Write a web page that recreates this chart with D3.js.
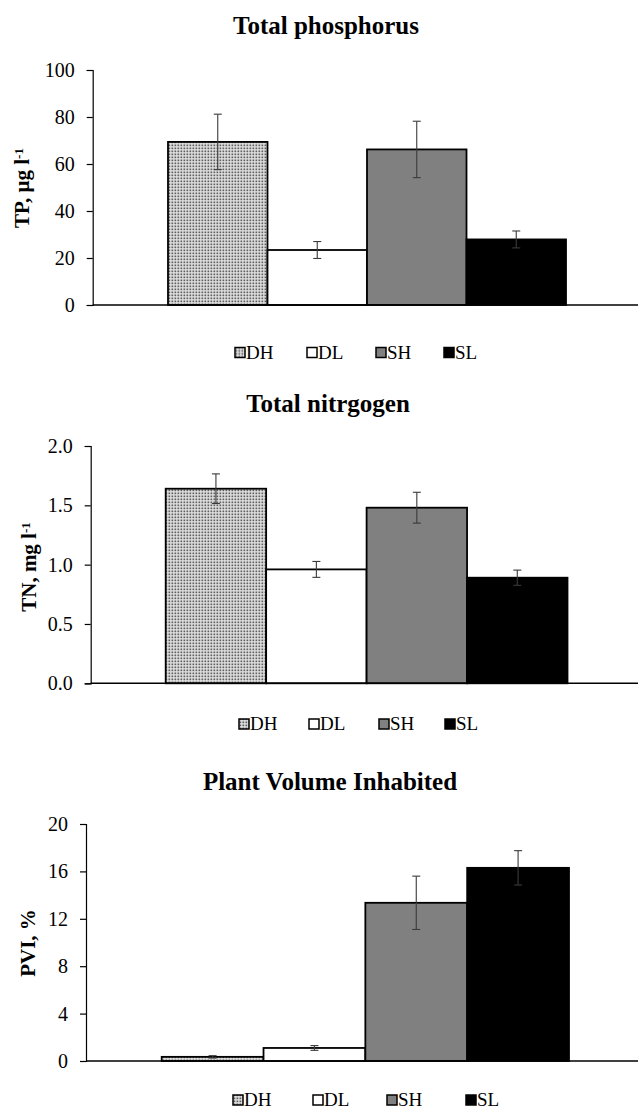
<html>
<head>
  <title>TP TN PVI</title>
  <script src="https://d3js.org/d3.v7.min.js"></script>
  <style>
    body { margin: 0; background: #fff; }
    svg text { font-family: "Liberation Serif", "Times New Roman", serif; fill: #000; }
    .title { font-weight: bold; font-size: 25px; }
    .ylabel { font-weight: bold; font-size: 21px; }
    .legend text { font-size: 19px; }
  </style>
</head>
<body>
  <div id="vis"></div>

  <script type="text/javascript">

    // data
    var series = ["DH", "DL", "SH", "SL"];

    var tpMean = [69.4, 23.4, 66.2, 27.9];
    var tpErr = [11.8, 3.6, 12.0, 3.6];
    var tpTicks = [0, 20, 40, 60, 80, 100];

    var tnMean = [1.64, 0.96, 1.48, 0.89];
    var tnErr = [0.125, 0.067, 0.13, 0.064];
    var tnTicks = [0, 0.5, 1.0, 1.5, 2.0];

    var pviMean = [0.35, 1.1, 13.35, 16.3];
    var pviErr = [0.1, 0.2, 2.25, 1.45];
    var pviTicks = [0, 4, 8, 12, 16, 20];

    var width = 638, height = 1111;
    var serif = '"Liberation Serif", "Times New Roman", serif';

    var svg = d3.select('#vis')
      .append('svg')
        .attr('width', width)
        .attr('height', height);

    // dotted fill used for DH
    var pat = svg.append('defs').append('pattern')
        .attr('id', 'dots')
        .attr('patternUnits', 'userSpaceOnUse')
        .attr('width', 3)
        .attr('height', 3);
    pat.append('rect').attr('width', 3).attr('height', 3).attr('fill', '#e2e2e2');
    pat.append('rect').attr('x', 0.5).attr('y', 0.5).attr('width', 1.7).attr('height', 1.7).attr('fill', '#5e5e5e');

    var fills = {DH: 'url(#dots)', DL: '#ffffff', SH: '#808080', SL: '#000000'};

    function drawChart(c) {
      var g = svg.append('g');

      var x = d3.scaleBand().domain(series).range([c.barStart, c.barEnd]).padding(0);
      var y = d3.scaleLinear().domain([0, c.ticks[c.ticks.length - 1]]).range([c.y0, c.yTop]);

      var rows = series.map(function(s, i) {
        return {name: s, mean: c.mean[i], err: c.err[i]};
      });

      // title
      g.append('text')
        .attr('class', 'title')
        .attr('x', c.titleX)
        .attr('y', c.titleY)
        .attr('text-anchor', 'middle')
        .text(c.title);

      // y axis
      var yAxis = d3.axisLeft(y)
        .tickValues(c.ticks)
        .tickSize(6)
        .tickPadding(12)
        .tickFormat(c.fmt);

      var ya = g.append('g')
        .attr('transform', 'translate(' + c.axisX + ',0)')
        .call(yAxis);
      ya.select('.domain').attr('stroke', '#000').attr('stroke-width', 1.2);
      ya.selectAll('.tick line').attr('stroke', '#000').attr('stroke-width', 1.2);
      ya.selectAll('.tick text')
        .attr('fill', '#000')
        .style('font-family', serif)
        .style('font-size', '20px');

      // y label
      var lab = g.append('text')
        .attr('class', 'ylabel')
        .attr('transform', 'translate(' + c.labelX + ',' + c.labelY + ') rotate(-90)')
        .attr('text-anchor', 'middle');
      lab.append('tspan').text(c.label);
      if (c.sup) {
        lab.append('tspan').attr('dy', '-0.5em').style('font-size', '13px').text(c.sup);
      }

      // bars
      g.selectAll('rect.bar')
        .data(rows)
        .enter().append('rect')
          .attr('class', 'bar')
          .attr('x', function(d) { return x(d.name); })
          .attr('y', function(d) { return y(d.mean); })
          .attr('width', x.bandwidth())
          .attr('height', function(d) { return y(0) - y(d.mean); })
          .attr('fill', function(d) { return fills[d.name]; })
          .attr('stroke', '#000')
          .attr('stroke-width', 1.8);

      // x axis line, no ticks
      g.append('line')
        .attr('x1', c.axisX)
        .attr('x2', width)
        .attr('y1', y(0))
        .attr('y2', y(0))
        .attr('stroke', '#000')
        .attr('stroke-width', 1.6);

      // error bars
      var eb = g.selectAll('g.err')
        .data(rows)
        .enter().append('g')
          .attr('class', 'err')
          .attr('stroke', '#3a3a3a')
          .attr('stroke-width', 1.1);
      eb.append('line')
        .attr('x1', function(d) { return x(d.name) + x.bandwidth() / 2; })
        .attr('x2', function(d) { return x(d.name) + x.bandwidth() / 2; })
        .attr('y1', function(d) { return y(d.mean - d.err); })
        .attr('y2', function(d) { return y(d.mean + d.err); });
      [1, -1].forEach(function(k) {
        eb.append('line')
          .attr('x1', function(d) { return x(d.name) + x.bandwidth() / 2 - 4; })
          .attr('x2', function(d) { return x(d.name) + x.bandwidth() / 2 + 4; })
          .attr('y1', function(d) { return y(d.mean + k * d.err); })
          .attr('y2', function(d) { return y(d.mean + k * d.err); });
      });

      // legend
      var lg = g.append('g').attr('class', 'legend');
      var items = lg.selectAll('g')
        .data(series)
        .enter().append('g')
          .attr('transform', function(d, i) { return 'translate(' + c.legendX[i] + ',' + c.legendY + ')'; });
      items.append('rect')
        .attr('x', 0)
        .attr('y', -11)
        .attr('width', 10)
        .attr('height', 10)
        .attr('fill', function(d) { return fills[d]; })
        .attr('stroke', '#000')
        .attr('stroke-width', 1.5);
      items.append('text')
        .attr('x', 11)
        .attr('y', 0)
        .style('font-family', serif)
        .text(function(d) { return d; });
    }

    drawChart({
      title: 'Total phosphorus', titleX: 326, titleY: 34,
      label: 'TP, \u00b5g l', sup: '-1', labelX: 29, labelY: 188,
      mean: tpMean, err: tpErr, ticks: tpTicks, fmt: d3.format('d'),
      axisX: 92.7, barStart: 168, barEnd: 566, y0: 305, yTop: 70,
      legendX: [235, 307, 376, 444], legendY: 358.5
    });

    drawChart({
      title: 'Total nitrgogen', titleX: 328, titleY: 412,
      label: 'TN, mg l', sup: '-1', labelX: 36, labelY: 567,
      mean: tnMean, err: tnErr, ticks: tnTicks, fmt: d3.format('.1f'),
      axisX: 90.7, barStart: 165.7, barEnd: 567.5, y0: 683.3, yTop: 446,
      legendX: [239, 309, 379, 445], legendY: 730
    });

    drawChart({
      title: 'Plant Volume Inhabited', titleX: 330, titleY: 790,
      label: 'PVI, %', sup: null, labelX: 35, labelY: 943,
      mean: pviMean, err: pviErr, ticks: pviTicks, fmt: d3.format('d'),
      axisX: 86, barStart: 161.7, barEnd: 569, y0: 1061, yTop: 824,
      legendX: [233, 313, 387, 466], legendY: 1106
    });

  </script>
</body>
</html>
